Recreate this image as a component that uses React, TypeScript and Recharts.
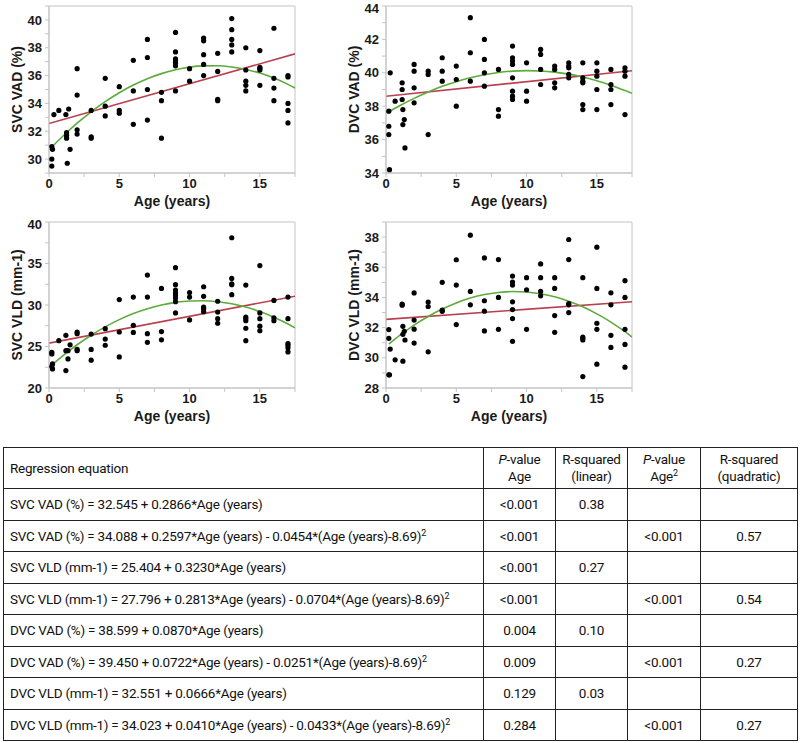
import React from 'react';
import { ComposedChart, Scatter, Line, XAxis, YAxis, ReferenceArea } from 'recharts';

// scatter points: [age (years), value]
const svcVadPoints: [number, number][] = [
  [0.2, 29.5], [0.2, 30.0], [0.25, 30.7], [0.2, 30.9], [0.35, 33.2], [0.7, 33.5], [1.2, 33.2], [1.4, 33.6],
  [1.25, 31.9], [1.25, 31.7], [1.25, 31.5], [1.5, 30.7], [1.3, 29.7],
  [2, 36.5], [2, 34.6], [2, 32.1], [2, 31.8],
  [3, 33.5], [3, 31.6], [3, 31.5],
  [4, 35.8], [4, 33.8], [4, 33.1],
  [5, 35.2], [5, 33.5], [5, 33.3],
  [6, 37.1], [6, 34.9], [6, 32.5],
  [7, 38.6], [7, 37.3], [7, 35.0], [7, 32.8],
  [8, 34.8], [8, 34.2], [8, 31.5],
  [9, 39.1], [9, 37.7], [9, 37.2], [9, 37.0], [9, 36.9], [9, 36.7], [9, 34.9],
  [10, 36.5], [10, 35.6],
  [11, 38.7], [11, 38.5], [11, 37.5], [11, 36.8], [11, 36.0],
  [12, 37.6], [12, 36.3], [12, 34.3], [12, 34.2],
  [13, 40.1], [13, 39.3], [13, 38.6], [13, 38.2], [13, 37.7],
  [14, 38.0], [14, 36.4], [14, 35.6], [14, 35.3], [14, 34.9],
  [15, 37.8], [15, 36.6], [15, 36.5], [15, 36.4], [15, 35.3],
  [16, 39.4], [16, 35.8], [16, 35.1], [16, 34.2],
  [17, 36.0], [17, 35.9], [17, 34.0], [17, 33.5], [17, 32.6],
];

const dvcVadPoints: [number, number][] = [
  [0.3, 40.0], [0.65, 38.3], [0.2, 37.7], [0.2, 36.8], [0.2, 36.3], [0.25, 34.2],
  [1.15, 39.4], [1.15, 39.0], [1.15, 38.4], [1.2, 37.8], [1.3, 37.2], [1.2, 36.9], [1.35, 35.5],
  [2, 40.5], [2, 40.1], [2, 39.1], [2, 38.2],
  [3, 40.1], [3, 39.9], [3, 36.3],
  [4, 40.9], [4, 40.1], [4, 39.5],
  [5, 40.4], [5, 39.6], [5, 38.0],
  [6, 43.3], [6, 41.2], [6, 39.5],
  [7, 42.0], [7, 40.8], [7, 40.0], [7, 39.2],
  [8, 40.2], [8, 37.8], [8, 37.4],
  [9, 41.6], [9, 40.9], [9, 40.7], [9, 40.5], [9, 39.7], [9, 38.9], [9, 38.6], [9, 38.4],
  [10, 40.6], [10, 38.9], [10, 38.3],
  [11, 41.4], [11, 41.1], [11, 40.2], [11, 39.3],
  [12, 40.4], [12, 40.2], [12, 39.4], [12, 39.1],
  [13, 40.6], [13, 40.4], [13, 40.3], [13, 39.9], [13, 39.7],
  [14, 40.6], [14, 39.7], [14, 39.5], [14, 39.4], [14, 38.1], [14, 37.8],
  [15, 40.6], [15, 40.1], [15, 39.8], [15, 39.0], [15, 37.8],
  [16, 40.2], [16, 39.3], [16, 39.0], [16, 38.1],
  [17, 40.3], [17, 40.1], [17, 39.8], [17, 37.5],
];

const svcVldPoints: [number, number][] = [
  [0.2, 24.3], [0.2, 24.1], [0.25, 22.9], [0.2, 22.6], [0.25, 22.3], [0.7, 25.7],
  [1.2, 26.35], [1.2, 24.5], [1.2, 22.1], [1.35, 23.5], [1.35, 24.5], [1.5, 25.2],
  [2, 26.75], [2, 26.55], [2, 24.65], [2, 24.5],
  [3, 26.5], [3, 24.65], [3, 23.35],
  [4, 27.15], [4, 25.9], [4, 25.15],
  [5, 30.65], [5, 26.75], [5, 23.75],
  [6, 30.95], [6, 27.55], [6, 26.7],
  [7, 33.6], [7, 30.95], [7, 26.55], [7, 25.5],
  [8, 32.0], [8, 26.8], [8, 25.8],
  [9, 34.5], [9, 32.45], [9, 31.8], [9, 31.45], [9, 31.2], [9, 30.85], [9, 30.4], [9, 29.05],
  [10, 31.5], [10, 30.95], [10, 28.2],
  [11, 32.2], [11, 31.05], [11, 29.75], [11, 29.55], [11, 29.2],
  [12, 30.45], [12, 29.15], [12, 28.35], [12, 27.8],
  [13, 38.1], [13, 33.2], [13, 32.55], [13, 32.45], [13, 31.25],
  [14, 32.4], [14, 28.55], [14, 28.35], [14, 28.1], [14, 27.2], [14, 25.7],
  [15, 34.75], [15, 29.05], [15, 28.35], [15, 27.45], [15, 26.9],
  [16, 30.55], [16, 28.45], [16, 28.1],
  [17, 30.95], [17, 28.35], [17, 25.35], [17, 25.15], [17, 24.85], [17, 24.35],
];

const dvcVldPoints: [number, number][] = [
  [0.2, 31.87], [0.2, 31.29], [0.2, 28.87], [0.25, 28.87], [0.3, 30.58], [0.65, 29.87],
  [1.15, 33.56], [1.15, 33.49], [1.2, 32.09], [1.2, 31.56], [1.2, 29.78], [1.3, 31.76], [1.35, 31.18],
  [2, 34.3], [2, 32.5], [2, 31.9], [2, 30.98],
  [3, 33.7], [3, 33.4], [3, 30.4],
  [4, 35.0], [4, 33.17], [4, 33.08],
  [5, 36.5], [5, 34.82], [5, 32.2],
  [6, 38.13], [6, 34.4], [6, 33.51],
  [7, 36.62], [7, 33.78], [7, 33.09], [7, 31.78],
  [8, 36.51], [8, 34.0], [8, 31.89],
  [9, 35.42], [9, 35.02], [9, 34.82], [9, 33.71], [9, 33.2], [9, 32.6], [9, 31.09],
  [10, 35.31], [10, 34.51], [10, 31.89],
  [11, 36.22], [11, 35.31], [11, 34.4], [11, 34.11],
  [12, 35.31], [12, 34.6], [12, 32.8], [12, 31.69],
  [13, 37.84], [13, 36.51], [13, 33.6], [13, 33.51], [13, 33.0],
  [14, 35.31], [14, 31.38], [14, 31.29], [14, 31.18], [14, 28.76],
  [15, 37.33], [15, 34.6], [15, 32.29], [15, 31.89], [15, 29.58],
  [16, 34.31], [16, 33.51], [16, 31.49], [16, 30.69],
  [17, 35.11], [17, 34.0], [17, 31.89], [17, 30.89], [17, 29.38],
];

// fitted curves read along the age axis
const linAges = [0, 17.5];
const quadAges = [0.2, 1, 2, 3, 4, 5, 6, 7, 8, 9, 10, 11, 12, 13, 14, 15, 16, 17, 17.5];

const svcVadLin = [32.55, 37.56];
const svcVadQuad = [30.87, 31.66, 32.58, 33.4, 34.13, 34.77, 35.32, 35.78, 36.14, 36.42, 36.61, 36.7, 36.71, 36.62, 36.44, 36.18, 35.82, 35.37, 35.11];
const dvcVadLin = [38.6, 40.12];
const dvcVadQuad = [37.66, 38.04, 38.47, 38.85, 39.19, 39.47, 39.7, 39.88, 40.02, 40.1, 40.13, 40.11, 40.04, 39.92, 39.75, 39.53, 39.26, 38.94, 38.77];
const svcVldLin = [25.4, 31.06];
const svcVldQuad = [22.78, 23.91, 25.21, 26.36, 27.37, 28.24, 28.97, 29.56, 30.01, 30.32, 30.49, 30.51, 30.4, 30.15, 29.75, 29.21, 28.53, 27.72, 27.25];
const dvcVldLin = [32.55, 33.72];
const dvcVldQuad = [30.91, 31.5, 32.17, 32.74, 33.23, 33.64, 33.96, 34.19, 34.33, 34.39, 34.36, 34.24, 34.04, 33.75, 33.38, 32.91, 32.37, 31.73, 31.38];

// ticks
const xTicks = [0, 2.5, 5, 7.5, 10, 12.5, 15, 17.5];
const xLabels = [0, 5, 10, 15];
const svcVadTicks = [29, 30, 31, 32, 33, 34, 35, 36, 37, 38, 39, 40, 41];
const svcVadLabels = [30, 32, 34, 36, 38, 40];
const dvcVadTicks = [34, 35, 36, 37, 38, 39, 40, 41, 42, 43, 44];
const dvcVadLabels = [34, 36, 38, 40, 42, 44];
const svcVldTicks = [20, 22.5, 25, 27.5, 30, 32.5, 35, 37.5, 40];
const svcVldLabels = [20, 25, 30, 35, 40];
const dvcVldTicks = [28, 29, 30, 31, 32, 33, 34, 35, 36, 37, 38, 39];
const dvcVldLabels = [28, 30, 32, 34, 36, 38];

// table
const equations = [
  'SVC VAD (%) = 32.545 + 0.2866*Age (years)',
  'SVC VAD (%) = 34.088 + 0.2597*Age (years) - 0.0454*(Age (years)-8.69)',
  'SVC VLD (mm-1) = 25.404 + 0.3230*Age (years)',
  'SVC VLD (mm-1) = 27.796 + 0.2813*Age (years) - 0.0704*(Age (years)-8.69)',
  'DVC VAD (%) = 38.599 + 0.0870*Age (years)',
  'DVC VAD (%) = 39.450 + 0.0722*Age (years) - 0.0251*(Age (years)-8.69)',
  'DVC VLD (mm-1) = 32.551 + 0.0666*Age (years)',
  'DVC VLD (mm-1) = 34.023 + 0.0410*Age (years) - 0.0433*(Age (years)-8.69)',
];
const squared = [false, true, false, true, false, true, false, true];
const pAge = ['<0.001', '<0.001', '<0.001', '<0.001', '0.004', '0.009', '0.129', '0.284'];
const rLinear = ['0.38', '', '0.27', '', '0.10', '', '0.03', ''];
const pAge2 = ['', '<0.001', '', '<0.001', '', '<0.001', '', '<0.001'];
const rQuad = ['', '0.57', '', '0.54', '', '0.27', '', '0.27'];

const RED = '#b9404f';
const GREEN = '#5dab3b';
const FRAME = '#c4c4c4';
const AXIS_FONT = '"Liberation Sans", Arial, sans-serif';
const TABLE_FONT = 'Roboto, "Liberation Sans", Arial, sans-serif';

const Dot = (p: any) => <circle cx={p.cx} cy={p.cy} r={2.6} fill="#000" />;

type PanelProps = {
  left: number;
  top: number;
  height: number;
  label: string;
  points: [number, number][];
  lin: number[];
  quad: number[];
  domain: [number, number];
  ticks: number[];
  labels: number[];
};

const Panel = ({ left, top, height, label, points, lin, quad, domain, ticks, labels }: PanelProps) => {
  const scatter = points.map(([x, y]) => ({ x, y }));
  const linData = linAges.map((x, i) => ({ x, y: lin[i] }));
  const quadData = quadAges.map((x, i) => ({ x, y: quad[i] }));
  const tickStyle = { fill: '#1a1a1a', fontSize: 13, fontWeight: 700, fontFamily: AXIS_FONT };

  return (
    <div style={{ position: 'absolute', left, top }}>
      <ComposedChart width={300} height={height} margin={{ top: 6, right: 5, bottom: 0, left: 0 }}>
        <XAxis
          type="number"
          dataKey="x"
          domain={[0, 17.5]}
          ticks={xTicks}
          tickFormatter={(v: number) => (xLabels.includes(v) ? String(v) : '')}
          allowDataOverflow
          height={42}
          tickSize={4}
          tickMargin={2}
          stroke={FRAME}
          tick={tickStyle}
          label={{
            content: (props: any) => {
              const vb = props.viewBox;
              return (
                <text x={vb.x + vb.width / 2} y={vb.y + 28} textAnchor="middle" dominantBaseline="central"
                  fill="#1a1a1a" fontSize={14} fontWeight={700} fontFamily={AXIS_FONT}>
                  Age (years)
                </text>
              );
            },
          }}
        />
        <YAxis
          type="number"
          dataKey="y"
          domain={domain}
          ticks={ticks}
          tickFormatter={(v: number) => (labels.includes(v) ? String(v) : '')}
          allowDataOverflow
          width={49}
          tickSize={4}
          tickMargin={3}
          stroke={FRAME}
          tick={tickStyle}
          label={{
            content: (props: any) => {
              const vb = props.viewBox;
              const cy = vb.y + vb.height / 2;
              return (
                <text x={17} y={cy} transform={`rotate(-90, 17, ${cy})`} textAnchor="middle" dominantBaseline="central"
                  fill="#1a1a1a" fontSize={14} fontWeight={700} fontFamily={AXIS_FONT}>
                  {label}
                </text>
              );
            },
          }}
        />
        <ReferenceArea x1={0} x2={17.5} y1={domain[0]} y2={domain[1]} fill="none" stroke={FRAME} strokeWidth={1} />
        <Scatter data={scatter} shape={Dot} isAnimationActive={false} />
        <Line data={linData} dataKey="y" stroke={RED} strokeWidth={1.6} dot={false} isAnimationActive={false} />
        <Line data={quadData} dataKey="y" type="monotone" stroke={GREEN} strokeWidth={1.6} dot={false} isAnimationActive={false} />
      </ComposedChart>
    </div>
  );
};

const cell: React.CSSProperties = {
  border: '1px solid #222',
  textAlign: 'center',
  verticalAlign: 'middle',
  padding: 0,
  whiteSpace: 'nowrap',
};

const sup: React.CSSProperties = { fontSize: 9, verticalAlign: 'super', lineHeight: 0 };

export default function App() {
  return (
    <div style={{ position: 'absolute', left: 0, top: 0, width: 800, height: 743, background: '#fff' }}>
      <Panel left={0} top={0} height={215} label="SVC VAD (%)" points={svcVadPoints} lin={svcVadLin} quad={svcVadQuad}
        domain={[29, 41]} ticks={svcVadTicks} labels={svcVadLabels} />
      <Panel left={337} top={0} height={215} label="DVC VAD (%)" points={dvcVadPoints} lin={dvcVadLin} quad={dvcVadQuad}
        domain={[34, 44]} ticks={dvcVadTicks} labels={dvcVadLabels} />
      <Panel left={0} top={216} height={214} label="SVC VLD (mm-1)" points={svcVldPoints} lin={svcVldLin} quad={svcVldQuad}
        domain={[20, 40]} ticks={svcVldTicks} labels={svcVldLabels} />
      <Panel left={337} top={216} height={214} label="DVC VLD (mm-1)" points={dvcVldPoints} lin={dvcVldLin} quad={dvcVldQuad}
        domain={[28, 39]} ticks={dvcVldTicks} labels={dvcVldLabels} />

      <table style={{
        position: 'absolute', left: 3, top: 447, width: 794, borderCollapse: 'collapse',
        fontFamily: TABLE_FONT, fontSize: 13.5, letterSpacing: '-0.25px', color: '#111', tableLayout: 'fixed',
      }}>
        <colgroup>
          <col style={{ width: 480 }} />
          <col style={{ width: 72 }} />
          <col style={{ width: 72 }} />
          <col style={{ width: 73 }} />
          <col style={{ width: 97 }} />
        </colgroup>
        <tbody>
          <tr style={{ height: 41 }}>
            <td style={{ ...cell, textAlign: 'left', paddingLeft: 6 }}>Regression equation</td>
            <td style={{ ...cell, lineHeight: '17px' }}><i>P</i>-value<br />Age</td>
            <td style={{ ...cell, lineHeight: '17px' }}>R-squared<br />(linear)</td>
            <td style={{ ...cell, lineHeight: '17px' }}><i>P</i>-value<br />Age<span style={sup}>2</span></td>
            <td style={{ ...cell, lineHeight: '17px' }}>R-squared<br />(quadratic)</td>
          </tr>
          {equations.map((eq, i) => (
            <tr key={i} style={{ height: 31.5 }}>
              <td style={{ ...cell, textAlign: 'left', paddingLeft: 6 }}>
                {eq}{squared[i] && <span style={sup}>2</span>}
              </td>
              <td style={cell}>{pAge[i]}</td>
              <td style={cell}>{rLinear[i]}</td>
              <td style={cell}>{pAge2[i]}</td>
              <td style={cell}>{rQuad[i]}</td>
            </tr>
          ))}
        </tbody>
      </table>
    </div>
  );
}
